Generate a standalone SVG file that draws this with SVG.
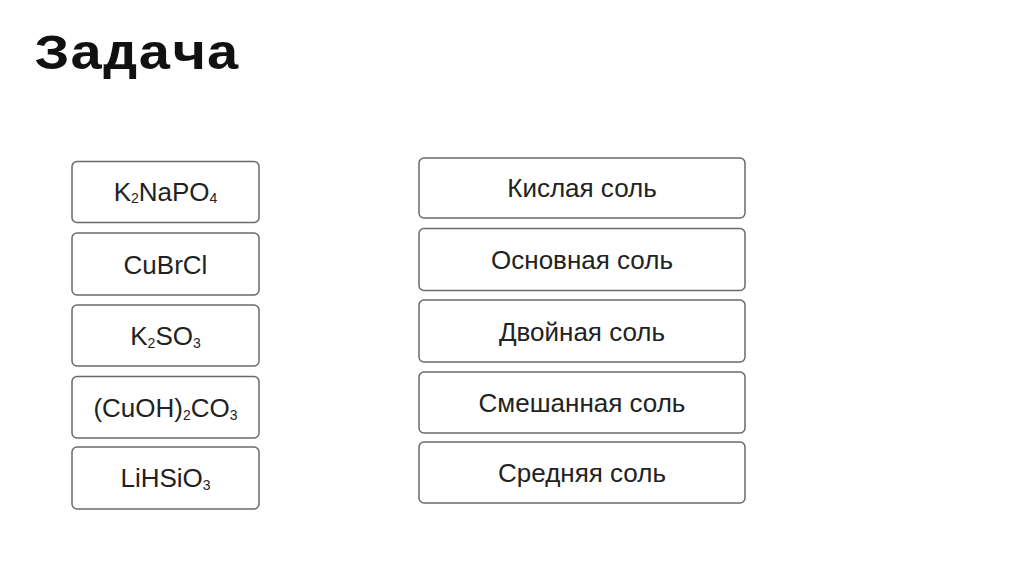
<svg xmlns="http://www.w3.org/2000/svg" width="1024" height="574" viewBox="0 0 1024 574">
<style>
.box{fill:#fff;stroke:#6a6a6a;stroke-width:1.5}
.t{font-family:"Liberation Sans",Arial,sans-serif;font-size:26px;fill:#222;text-anchor:middle}
.s{font-size:14px}
.title{font-family:"Liberation Mono","Courier New",monospace;font-weight:bold;font-size:50px;fill:#111}
</style>
<rect width="1024" height="574" fill="#fff"/>
<text class="title" x="35" y="69" textLength="205" lengthAdjust="spacingAndGlyphs">Задача</text>
<g id="n1"><rect class="box" x="72" y="161.5" width="187" height="61" rx="5"/><text class="t" x="165.5" y="201">K<tspan class="s" dy="2">2</tspan><tspan dy="-2">NaPO</tspan><tspan class="s" dy="2">4</tspan></text></g>
<g id="n2"><rect class="box" x="72" y="233" width="187" height="62" rx="5"/><text class="t" x="165.5" y="274">CuBrCl</text></g>
<g id="n3"><rect class="box" x="72" y="305" width="187" height="61" rx="5"/><text class="t" x="165.5" y="345">K<tspan class="s" dy="3">2</tspan><tspan dy="-3">SO</tspan><tspan class="s" dy="3">3</tspan></text></g>
<g id="n4"><rect class="box" x="72" y="376.5" width="187" height="61.5" rx="5"/><text class="t" x="165.5" y="417">(CuOH)<tspan class="s" dy="3">2</tspan><tspan dy="-3">CO</tspan><tspan class="s" dy="3">3</tspan></text></g>
<g id="n5"><rect class="box" x="72" y="447" width="187" height="62" rx="5"/><text class="t" x="165.5" y="487">LiHSiO<tspan class="s" dy="3">3</tspan></text></g>
<g id="m1"><rect class="box" x="419" y="158" width="326" height="60" rx="5"/><text class="t" x="582" y="197">Кислая соль</text></g>
<g id="m2"><rect class="box" x="419" y="228.5" width="326" height="62" rx="5"/><text class="t" x="582" y="269">Основная соль</text></g>
<g id="m3"><rect class="box" x="419" y="300" width="326" height="62" rx="5"/><text class="t" x="582" y="341">Двойная соль</text></g>
<g id="m4"><rect class="box" x="419" y="372" width="326" height="61" rx="5"/><text class="t" x="582" y="412">Смешанная соль</text></g>
<g id="m5"><rect class="box" x="419" y="442" width="326" height="61" rx="5"/><text class="t" x="582" y="482">Средняя соль</text></g>
<g id="connectors"></g>
</svg>
